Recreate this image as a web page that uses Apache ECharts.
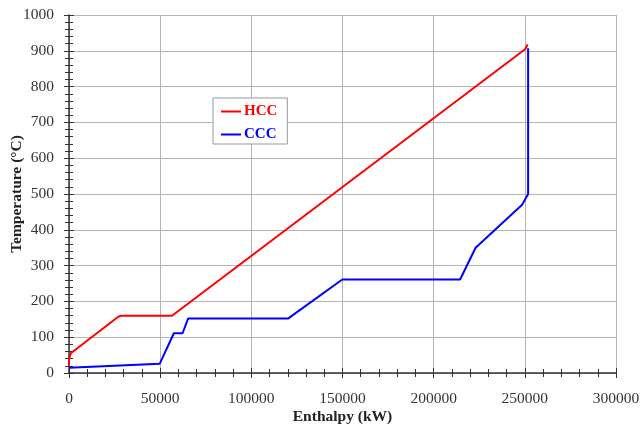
<!DOCTYPE html>
<html lang="en">
<head>
    <meta charset="UTF-8">
    <title>composite curves</title>
    <script type="text/javascript" src="https://cdn.jsdelivr.net/npm/echarts@6/dist/echarts.min.js"></script>
</head>
<body style="margin:0">
<div id="chart" style="width: 643px;height: 426px;"></div>
<script type="text/javascript">
    // hot composite curve [enthalpy kW, temperature C]
    var hccData = [[0, 20], [0, 40], [1000, 55], [27000, 157], [28500, 160], [56500, 160],
        [250300, 905], [251500, 918]];
    // cold composite curve
    var cccData = [[0, 15], [49800, 26], [57500, 111], [62300, 111], [65300, 152], [120100, 152],
        [149900, 261], [214500, 261], [223000, 350], [248500, 470], [251800, 500], [251800, 907]];
    var xTicks = [0, 50000, 100000, 150000, 200000, 250000, 300000];
    var yTicks = [0, 100, 200, 300, 400, 500, 600, 700, 800, 900, 1000];

    var font = 'Liberation Serif';
    var axisColor = '#333';

    var myChart = echarts.init(document.getElementById('chart'));

    function plain(v) {
        return String(v); // no thousands separator
    }

    // second copy of each axis draws the inner half of the ticks, so ticks cross the line
    function xAxisCfg(main) {
        return {
            type: 'value',
            position: 'bottom',
            min: xTicks[0],
            max: xTicks[xTicks.length - 1],
            interval: 50000,
            minorTick: {show: true, splitNumber: 5, length: 4, lineStyle: {color: axisColor}},
            axisTick: {show: true, inside: !main, length: 5, lineStyle: {color: axisColor}},
            axisLine: {show: main, lineStyle: {color: axisColor, width: 1.5}},
            axisLabel: {
                show: main, margin: 18, color: '#333', fontFamily: font, fontSize: 15.5,
                formatter: plain
            },
            splitLine: {show: main, lineStyle: {color: '#b4b4b4', width: 1}},
            name: main ? 'Enthalpy (kW)' : '',
            nameLocation: 'middle',
            nameGap: 36,
            nameMoveOverlap: false,
            nameTextStyle: {fontFamily: font, fontSize: 15.5, fontWeight: 'bold', color: '#222'}
        };
    }
    function yAxisCfg(main) {
        return {
            type: 'value',
            position: 'left',
            offset: 0,
            min: yTicks[0],
            max: yTicks[yTicks.length - 1],
            interval: 100,
            minorTick: {show: true, splitNumber: 5, length: 4, lineStyle: {color: axisColor}},
            axisTick: {show: true, inside: !main, length: 5, lineStyle: {color: axisColor}},
            axisLine: {show: main, lineStyle: {color: axisColor, width: 1.5}},
            axisLabel: {
                show: main, margin: 15, color: '#333', fontFamily: font, fontSize: 15.5,
                formatter: plain
            },
            splitLine: {show: main, lineStyle: {color: '#b4b4b4', width: 1}},
            name: main ? 'Temperature (°C)' : '',
            nameLocation: 'middle',
            nameGap: 44,
            nameMoveOverlap: false,
            nameTextStyle: {fontFamily: font, fontSize: 15.5, fontWeight: 'bold', color: '#222'}
        };
    }

    var option = {
        backgroundColor: '#fff',
        animation: false,
        grid: {left: 69, right: 27, top: 15, bottom: 53, containLabel: false, outerBoundsMode: 'none'},
        legend: {
            left: 213,
            top: 98,
            orient: 'vertical',
            backgroundColor: '#fff',
            borderColor: '#999',
            borderWidth: 1,
            borderRadius: 0,
            padding: [6, 10, 2, 8],
            itemGap: 8,
            itemWidth: 20,
            itemHeight: 2,
            icon: 'rect',
            textStyle: {fontFamily: font, fontSize: 15, fontWeight: 'bold', padding: [0, 0, 0, -2]},
            data: [
                {name: 'HCC', textStyle: {color: '#f00'}},
                {name: 'CCC', textStyle: {color: '#00f'}}
            ]
        },
        xAxis: [xAxisCfg(true), xAxisCfg(false)],
        yAxis: [yAxisCfg(true), yAxisCfg(false)],
        series: [
            {
                name: 'HCC',
                type: 'line',
                symbol: 'none',
                lineStyle: {color: '#f00', width: 2},
                itemStyle: {color: '#f00'},
                data: hccData
            },
            {
                name: 'CCC',
                type: 'line',
                symbol: 'none',
                lineStyle: {color: '#00f', width: 2},
                itemStyle: {color: '#00f'},
                data: cccData
            }
        ]
    };
    myChart.setOption(option);
</script>
</body>
</html>
